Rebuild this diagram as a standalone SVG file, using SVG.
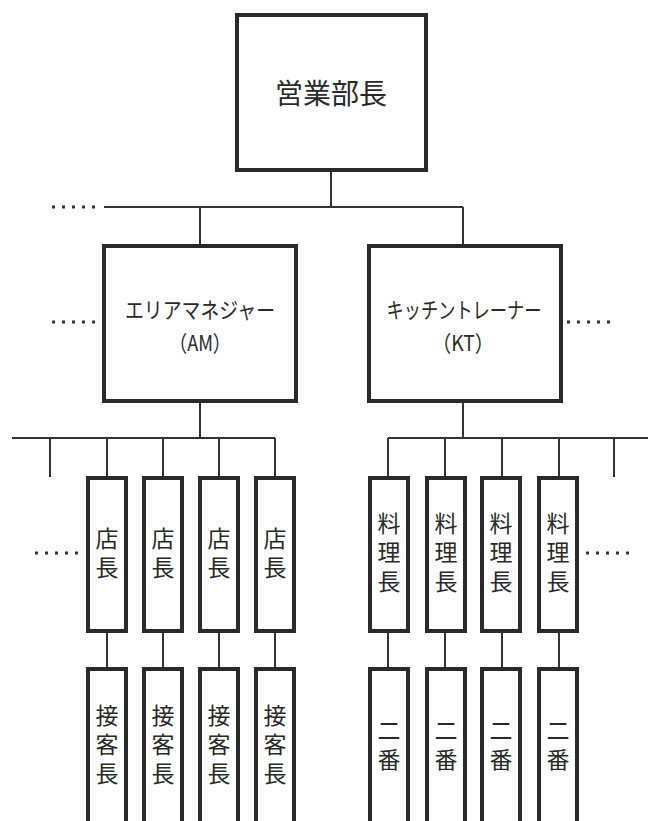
<svg xmlns="http://www.w3.org/2000/svg" width="648" height="821" viewBox="0 0 648 821">
<style>
.box{fill:#fff;stroke:#2a2a2a;stroke-width:4}
.ln{fill:none;stroke:#333;stroke-width:2}
.dots{fill:none;stroke:#333;stroke-width:3;stroke-dasharray:3 7}
text{font-family:"Noto Sans CJK JP","Noto Sans",sans-serif;fill:#2a2a2a;text-anchor:middle;dominant-baseline:central}
.t1{font-size:28px}
.t2{font-size:22px}
.v{font-size:23px;writing-mode:vertical-rl;letter-spacing:6px}
</style>
<rect width="648" height="821" fill="#fff"/>
<g id="connectors">
<line class="ln" x1="331" y1="170" x2="331" y2="207"/>
<line class="ln" x1="104" y1="207" x2="463" y2="207"/>
<line class="ln" x1="200" y1="207" x2="200" y2="245"/>
<line class="ln" x1="463" y1="207" x2="463" y2="245"/>
<line class="dots" x1="52" y1="207" x2="96" y2="207"/>
<line class="dots" x1="52" y1="322" x2="96" y2="322"/>
<line class="dots" x1="567" y1="322" x2="611" y2="322"/>
<line class="dots" x1="35" y1="553" x2="79" y2="553"/>
<line class="dots" x1="586" y1="553" x2="630" y2="553"/>
<line class="ln" x1="200" y1="400" x2="200" y2="438"/>
<line class="ln" x1="12" y1="438" x2="275" y2="438"/>
<line class="ln" x1="50" y1="438" x2="50" y2="477"/>
<line class="ln" x1="107" y1="438" x2="107" y2="477"/>
<line class="ln" x1="163" y1="438" x2="163" y2="477"/>
<line class="ln" x1="219" y1="438" x2="219" y2="477"/>
<line class="ln" x1="275" y1="438" x2="275" y2="477"/>
<line class="ln" x1="463" y1="400" x2="463" y2="438"/>
<line class="ln" x1="388" y1="438" x2="648" y2="438"/>
<line class="ln" x1="388" y1="438" x2="388" y2="477"/>
<line class="ln" x1="445" y1="438" x2="445" y2="477"/>
<line class="ln" x1="502" y1="438" x2="502" y2="477"/>
<line class="ln" x1="559" y1="438" x2="559" y2="477"/>
<line class="ln" x1="614" y1="438" x2="614" y2="477"/>
<line class="ln" x1="107" y1="631" x2="107" y2="668"/>
<line class="ln" x1="163" y1="631" x2="163" y2="668"/>
<line class="ln" x1="219" y1="631" x2="219" y2="668"/>
<line class="ln" x1="275" y1="631" x2="275" y2="668"/>
<line class="ln" x1="388" y1="631" x2="388" y2="668"/>
<line class="ln" x1="445" y1="631" x2="445" y2="668"/>
<line class="ln" x1="502" y1="631" x2="502" y2="668"/>
<line class="ln" x1="559" y1="631" x2="559" y2="668"/>
</g>
<g id="bucho">
<rect class="box" x="237" y="15" width="189" height="155"/>
<text class="t1" x="331" y="92">営業部長</text>
</g>
<g id="am">
<rect class="box" x="104" y="246" width="192" height="155"/>
<text class="t2" x="200" y="308" textLength="150" lengthAdjust="spacingAndGlyphs">エリアマネジャー</text>
<text class="t2" x="200" y="341" textLength="62" lengthAdjust="spacingAndGlyphs">（AM）</text>
</g>
<g id="kt">
<rect class="box" x="369" y="246" width="192" height="155"/>
<text class="t2" x="464" y="308" textLength="155" lengthAdjust="spacingAndGlyphs">キッチントレーナー</text>
<text class="t2" x="463" y="341" textLength="62" lengthAdjust="spacingAndGlyphs">（KT）</text>
</g>
<g id="tencho1"><rect class="box" x="88" y="478" width="38" height="153"/><text class="v" x="107" y="556">店長</text></g>
<g id="tencho2"><rect class="box" x="144" y="478" width="38" height="153"/><text class="v" x="163" y="556">店長</text></g>
<g id="tencho3"><rect class="box" x="200" y="478" width="38" height="153"/><text class="v" x="219" y="556">店長</text></g>
<g id="tencho4"><rect class="box" x="256" y="478" width="38" height="153"/><text class="v" x="275" y="556">店長</text></g>
<g id="ryoricho1"><rect class="box" x="370" y="478" width="38" height="153"/><text class="v" x="389" y="555">料理長</text></g>
<g id="ryoricho2"><rect class="box" x="427" y="478" width="38" height="153"/><text class="v" x="446" y="555">料理長</text></g>
<g id="ryoricho3"><rect class="box" x="482" y="478" width="38" height="153"/><text class="v" x="501" y="555">料理長</text></g>
<g id="ryoricho4"><rect class="box" x="539" y="478" width="38" height="153"/><text class="v" x="558" y="555">料理長</text></g>
<g id="sekkyaku1"><rect class="box" x="88" y="669" width="38" height="170"/><text class="v" x="107" y="747">接客長</text></g>
<g id="sekkyaku2"><rect class="box" x="144" y="669" width="38" height="170"/><text class="v" x="163" y="747">接客長</text></g>
<g id="sekkyaku3"><rect class="box" x="200" y="669" width="38" height="170"/><text class="v" x="219" y="747">接客長</text></g>
<g id="sekkyaku4"><rect class="box" x="256" y="669" width="38" height="170"/><text class="v" x="275" y="747">接客長</text></g>
<g id="niban1"><rect class="box" x="370" y="669" width="38" height="170"/><text class="v" x="389" y="748">二番</text></g>
<g id="niban2"><rect class="box" x="427" y="669" width="38" height="170"/><text class="v" x="446" y="748">二番</text></g>
<g id="niban3"><rect class="box" x="482" y="669" width="38" height="170"/><text class="v" x="501" y="748">二番</text></g>
<g id="niban4"><rect class="box" x="539" y="669" width="38" height="170"/><text class="v" x="558" y="748">二番</text></g>
</svg>
